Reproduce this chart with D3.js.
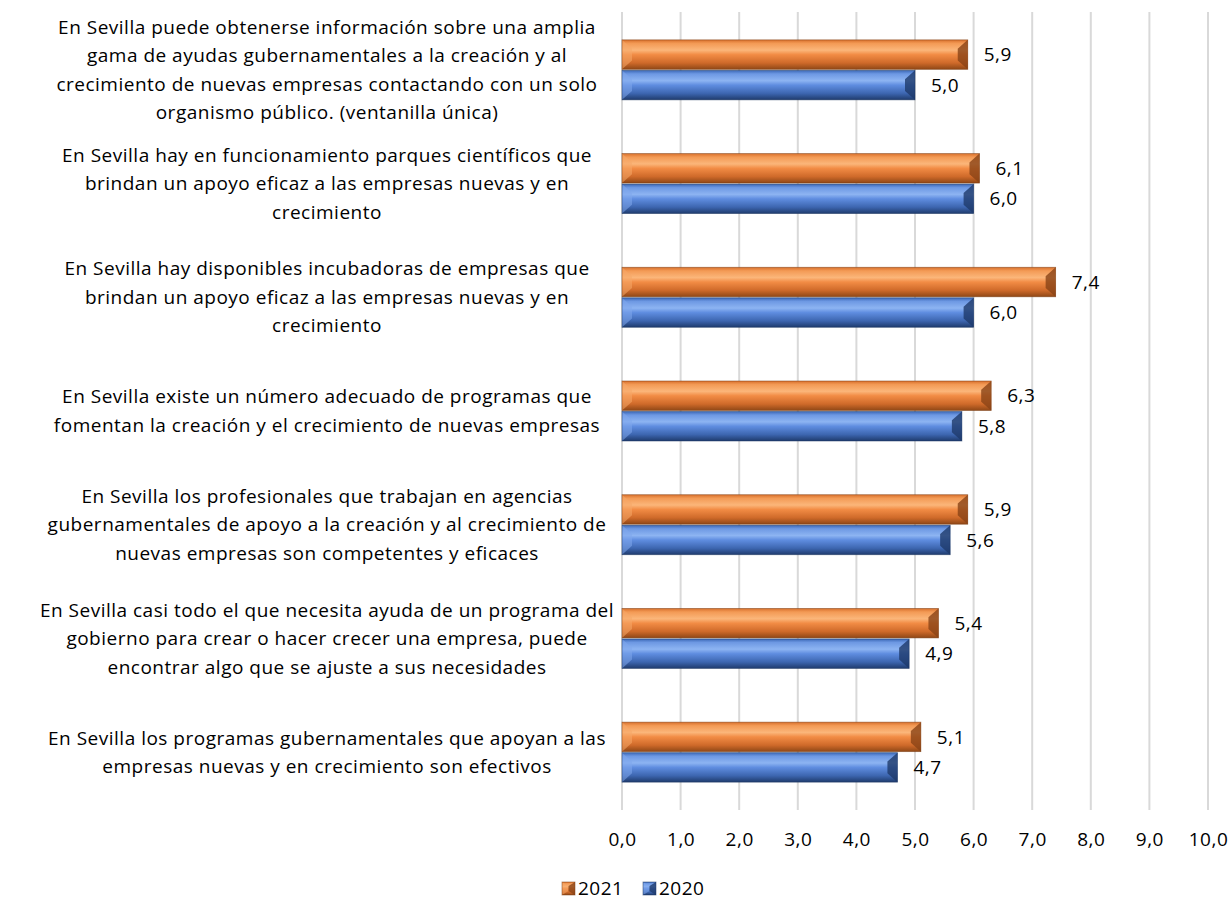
<!DOCTYPE html>
<html><head><meta charset="utf-8">
<script src="https://cdn.jsdelivr.net/npm/d3@7"></script>
<style>body{margin:0;background:#fff;} text{font-family:"Open Sans","Noto Sans",sans-serif;fill:#000;}</style>
</head><body>
<svg id="c" width="1229" height="901"></svg>
<script>
const categories = [
  ["En Sevilla puede obtenerse información sobre una amplia","gama de ayudas gubernamentales a la creación y al","crecimiento de nuevas empresas contactando con un solo","organismo público. (ventanilla única)"],
  ["En Sevilla hay en funcionamiento parques científicos que","brindan un apoyo eficaz a las empresas nuevas y en","crecimiento"],
  ["En Sevilla hay disponibles incubadoras de empresas que","brindan un apoyo eficaz a las empresas nuevas y en","crecimiento"],
  ["En Sevilla existe un número adecuado de programas que","fomentan la creación y el crecimiento de nuevas empresas"],
  ["En Sevilla los profesionales que trabajan en agencias","gubernamentales de apoyo a la creación y al crecimiento de","nuevas empresas son competentes y eficaces"],
  ["En Sevilla casi todo el que necesita ayuda de un programa del","gobierno para crear o hacer crecer una empresa, puede","encontrar algo que se ajuste a sus necesidades"],
  ["En Sevilla los programas gubernamentales que apoyan a las","empresas nuevas y en crecimiento son efectivos"]
];
const values2021 = [5.9, 6.1, 7.4, 6.3, 5.9, 5.4, 5.1];
const values2020 = [5.0, 6.0, 6.0, 5.8, 5.6, 4.9, 4.7];
const seriesNames = ["2021", "2020"];
const tickValues = [0,1,2,3,4,5,6,7,8,9,10];

const svg = d3.select("#c");
const x = d3.scaleLinear().domain([0,10]).range([622,1208]);
const y = d3.scaleBand().domain(d3.range(categories.length)).range([13,809]).paddingInner(0).paddingOuter(0);
const barH = 29.5;
const fmt = v => d3.format(".1f")(v).replace(".", ",");
const FS = "19px", LS = "0.5px";

const defs = svg.append("defs");
function grad(id, stops){
  const g = defs.append("linearGradient").attr("id", id).attr("x1",0).attr("y1",0).attr("x2",0).attr("y2",1);
  stops.forEach(s => g.append("stop").attr("offset", s[0]).attr("stop-color", s[1]));
}
grad("gO", [[0,"#d8702c"],[0.12,"#f39a55"],[0.35,"#fbb67a"],[0.5,"#f28c45"],[0.78,"#cf6a2a"],[1,"#8f4716"]]);
grad("gB", [[0,"#3c68b6"],[0.12,"#6d98e3"],[0.35,"#8db4f2"],[0.5,"#5f8de0"],[0.78,"#3d66b0"],[1,"#1f3b6d"]]);
const pal = {
  "2021": {fill:"url(#gO)", left:"#f5a868", right:"#8a4416", edge:"#7a3c12"},
  "2020": {fill:"url(#gB)", left:"#80a8ec", right:"#1e3a6a", edge:"#1c3560"}
};

// gridlines
svg.append("g").selectAll("line").data(tickValues).join("line")
  .attr("x1", d=>x(d)).attr("x2", d=>x(d)).attr("y1", 12).attr("y2", 810)
  .attr("stroke", "#d9d9d9").attr("stroke-width", 2);

// x axis labels
const ax = svg.append("g").attr("transform","translate(0,830)").call(d3.axisBottom(x).tickValues(tickValues).tickFormat(fmt).tickSize(0));
ax.select(".domain").remove();
ax.selectAll("text").style("font-size",FS).style("letter-spacing",LS).style("font-family","'Open Sans','Noto Sans',sans-serif").attr("dy","0.7em");

function bevelBar(g, x0, x1, y0, h, p){
  const y1 = y0 + h, b = Math.min(10, (x1-x0)/2);
  g.append("rect").attr("x", x0).attr("y", y0).attr("width", x1-x0).attr("height", h).attr("fill", p.fill);
  g.append("path").attr("d", `M${x0},${y0}L${x0+b},${y0+h*0.3}L${x0+b},${y1-h*0.3}L${x0},${y1}Z`).attr("fill", p.left).attr("opacity",0.55);
  g.append("path").attr("d", `M${x1},${y0}L${x1-b},${y0+h*0.3}L${x1-b},${y1-h*0.3}L${x1},${y1}Z`).attr("fill", p.right).attr("opacity",0.8);
  g.append("rect").attr("x", x0).attr("y", y0).attr("width", x1-x0).attr("height", h).attr("fill","none").attr("stroke", p.edge).attr("stroke-width",0.8).attr("stroke-opacity",0.6);
}

const gBars = svg.append("g");
categories.forEach((c,i) => {
  const cy = y(i) + y.bandwidth()/2;
  [[values2021[i],"2021",cy - barH - 0.5],[values2020[i],"2020",cy + 0.5]].forEach(([v,s,yy]) => {
    bevelBar(gBars.append("g"), x(0), x(v), yy, barH, pal[s]);
    gBars.append("text").attr("x", x(v)+16).attr("y", yy + barH/2).attr("dy","0.35em")
      .style("font-size",FS).style("letter-spacing",LS).text(fmt(v));
  });
  const lh = 28.5;
  const n = c.length;
  const t = svg.append("text").attr("text-anchor","middle").style("font-size",FS).style("letter-spacing",LS);
  c.forEach((line,j) => {
    t.append("tspan").attr("x", 327).attr("y", cy + (j - (n-1)/2)*lh).attr("dy","0.35em").text(line);
  });
});

// legend
const leg = svg.append("g");
const legItems = [{s:"2021", x:562},{s:"2020", x:643}];
legItems.forEach(it => {
  const g = leg.append("g");
  bevelBar(g, it.x, it.x+13, 882, 13, pal[it.s]);
  leg.append("text").attr("x", it.x+16).attr("y", 888).attr("dy","0.35em").style("font-size",FS).style("letter-spacing",LS).text(it.s);
});
</script>
</body></html>
